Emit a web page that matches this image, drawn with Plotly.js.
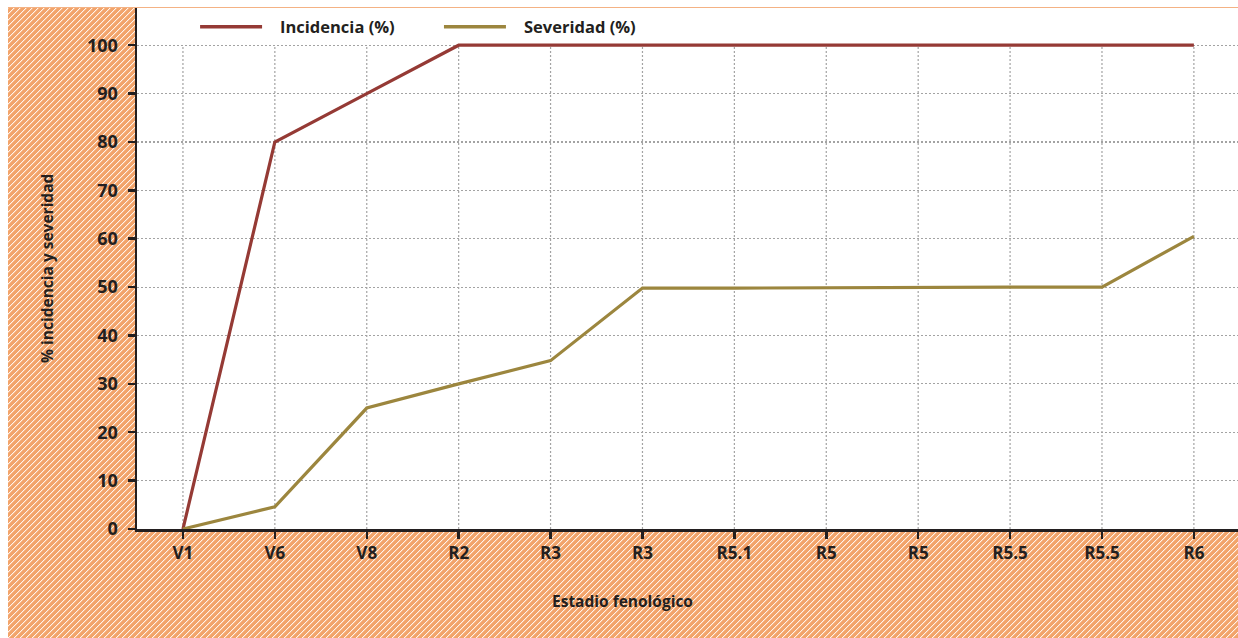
<!DOCTYPE html>
<html>
<head>
<meta charset="utf-8">
<script src="https://cdn.plot.ly/plotly-3.0.1.min.js"></script>
<style>
  html, body { margin: 0; padding: 0; background: #ffffff; }
  #wrap {
    position: absolute; left: 8px; top: 7px; width: 1230px; height: 631px;
    background-color: #F2A46B;
  }
  #chart { position: absolute; left: 0; top: 0; width: 1230px; height: 631px; }
</style>
</head>
<body>
<div id="wrap"><div id="chart"></div></div>
<script>
const stages = ["V1", "V6", "V8", "R2", "R3", "R3", "R5.1", "R5", "R5", "R5.5", "R5.5", "R6"];
const incidencia = [0, 80, 90, 100, 100, 100, 100, 100, 100, 100, 100, 100];
const severidad = [0, 4.6, 25, 30, 34.8, 49.8, 49.8, 49.9, 49.9, 50, 50, 60.5];
const seriesNames = ["Incidencia (%)", "Severidad (%)"];
const seriesColors = ["#953A35", "#9C863E"];
const yTicks = [0, 10, 20, 30, 40, 50, 60, 70, 80, 90, 100];
const xTitle = "Estadio fenológico";
const yTitle = "% incidencia y severidad";

// hatched background tile ("/" diagonal stripes)
(function () {
  const P = 6, c = document.createElement("canvas");
  c.width = P; c.height = P;
  const g = c.getContext("2d");
  g.fillStyle = "#F2A46B"; g.fillRect(0, 0, P, P);
  for (let x = 0; x < P; x++) for (let y = 0; y < P; y++) {
    const m = (x + y) % P;
    if (m === 0) { g.fillStyle = "#FFF4EC"; g.fillRect(x, y, 1, 1); }
    else if (m === 1) { g.fillStyle = "#F6BC92"; g.fillRect(x, y, 1, 1); }
  }
  document.getElementById("wrap").style.backgroundImage = "url(" + c.toDataURL() + ")";
})();

const idx = stages.map((_, i) => i);
const font = { family: "Open Sans, DejaVu Sans, sans-serif", color: "#231F20", weight: 700 };
const f = s => Object.assign({}, font, { size: s });

const traces = [incidencia, severidad].map((vals, k) => ({
  type: "scatter", mode: "lines", x: idx, y: vals, name: seriesNames[k],
  line: { color: seriesColors[k], width: 3.2 }, showlegend: false, cliponaxis: false
}));

const gridLine = { color: "#A3A3A3", width: 1.2, dash: "2px,2px" };
const shapes = [];
idx.forEach(i => {
  shapes.push({ type: "line", xref: "x", yref: "y", x0: i, x1: i, y0: 0, y1: 100,
    line: gridLine, layer: "below" });
});
shapes.push({ type: "line", xref: "paper", yref: "paper", x0: -0.2, x1: 1, y0: 1, y1: 1,
  line: { color: "#F4B284", width: 2 } });

const legendX = [0.0573, 0.2788];
const annotations = [];
seriesNames.forEach((nm, k) => {
  shapes.push({ type: "line", xref: "paper", yref: "paper", x0: legendX[k], x1: legendX[k] + 0.0563,
    y0: 0.962, y1: 0.962, line: { color: seriesColors[k], width: 3.5 } });
  annotations.push({ xref: "paper", yref: "paper", x: legendX[k] + 0.0709, y: 0.962, xanchor: "left",
    yanchor: "middle", text: nm, showarrow: false, font: f(16.5) });
});
annotations.push({ xref: "paper", yref: "paper", x: 0.4414, y: -0.138, xanchor: "center", yanchor: "middle",
  text: xTitle, showarrow: false, font: f(15.5) });
annotations.push({ xref: "paper", yref: "paper", x: -0.0818, y: 0.5, xanchor: "center", yanchor: "middle",
  text: yTitle, textangle: -90, showarrow: false, font: f(15.5) });

const layout = {
  width: 1230, height: 631,
  margin: { l: 129, r: 0, t: 0, b: 109 },
  paper_bgcolor: "rgba(0,0,0,0)", plot_bgcolor: "#ffffff",
  showlegend: false,
  xaxis: {
    range: [-0.5, 11.48], tickmode: "array", tickvals: idx, ticktext: stages,
    showgrid: false, zeroline: false, showline: true, linecolor: "#231F20", linewidth: 2.5,
    ticks: "outside", tickson: "boundaries", ticklen: 7, tickwidth: 2.5, tickcolor: "#231F20",
    tickfont: f(17)
  },
  yaxis: {
    range: [0, 107.9], tickmode: "array", tickvals: yTicks,
    showgrid: true, gridcolor: "#A3A3A3", griddash: "2px,2px", gridwidth: 1.2,
    zeroline: false, showline: true, linecolor: "#231F20", linewidth: 2.5,
    ticks: "outside", ticklen: 7, tickwidth: 2.5, tickcolor: "#231F20",
    ticklabelstandoff: 6,
    tickfont: f(18)
  },
  shapes: shapes,
  annotations: annotations
};

Plotly.newPlot("chart", traces, layout, { displayModeBar: false, staticPlot: true });
</script>
</body>
</html>
